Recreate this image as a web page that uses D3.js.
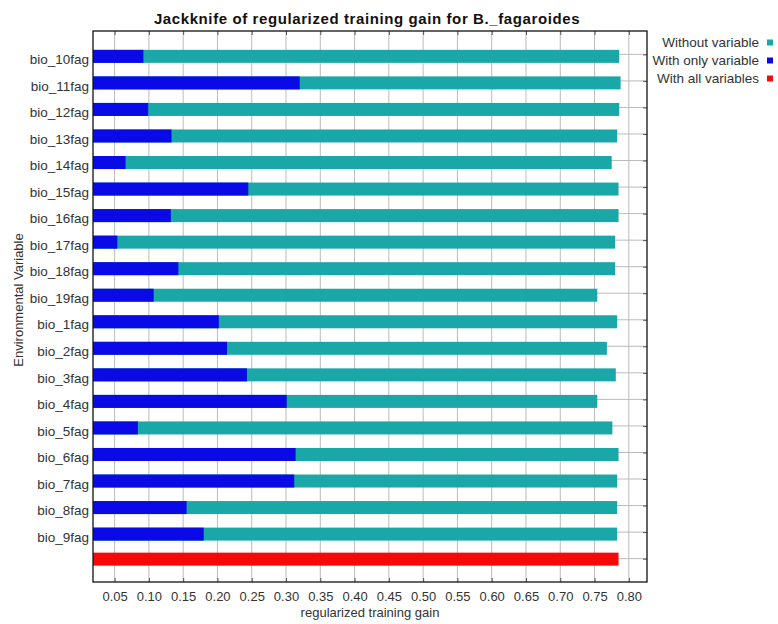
<!DOCTYPE html>
<html>
<head>
<meta charset="utf-8">
<script src="https://cdn.jsdelivr.net/npm/d3@7"></script>
<style>
  body { margin: 0; background: #fff; }
  text { font-family: "Liberation Sans", Arial, sans-serif; }
</style>
</head>
<body>
<script>
// variables in the order they are listed on the chart
var variables = ["bio_10fag", "bio_11fag", "bio_12fag", "bio_13fag", "bio_14fag", "bio_15fag",
  "bio_16fag", "bio_17fag", "bio_18fag", "bio_19fag", "bio_1fag", "bio_2fag", "bio_3fag",
  "bio_4fag", "bio_5fag", "bio_6fag", "bio_7fag", "bio_8fag", "bio_9fag"];

// gain without the variable (teal)
var withoutVar = [0.786, 0.788, 0.786, 0.783, 0.775, 0.785, 0.785, 0.780, 0.780, 0.754,
  0.783, 0.768, 0.781, 0.754, 0.776, 0.785, 0.783, 0.783, 0.783];

// gain with only the variable (blue)
var onlyVar = [0.092, 0.320, 0.099, 0.133, 0.066, 0.245, 0.132, 0.054, 0.143, 0.107,
  0.202, 0.214, 0.243, 0.301, 0.084, 0.314, 0.312, 0.155, 0.180];

// gain with all variables (red)
var allVars = 0.785;

var xTicks = [0.05, 0.10, 0.15, 0.20, 0.25, 0.30, 0.35, 0.40, 0.45, 0.50, 0.55, 0.60, 0.65, 0.70, 0.75, 0.80];

var legendItems = ["Without variable", "With only variable", "With all variables"];
var colors = ["#19a7a7", "#0a0ae6", "#f50a0a"];

var width = 778, height = 624;
var plotLeft = 93, plotRight = 647, plotTop = 31, plotBottom = 582;

var svg = d3.select("body").append("svg")
  .attr("width", width)
  .attr("height", height);

//x scale from the gain values, axis starts a little above zero like the original
var xScale = d3.scaleLinear()
  .domain([0.0185, 0.8265])
  .range([plotLeft, plotRight]);

//one row per variable plus the last row for all variables
var rows = variables.concat(["all"]);
var yScale = d3.scalePoint()
  .domain(rows)
  .range([plotTop, plotBottom])
  .padding(0.88);

var barH = 13;

//grid lines
svg.append("g").selectAll("line")
  .data(xTicks)
  .join("line")
  .attr("x1", d => xScale(d)).attr("x2", d => xScale(d))
  .attr("y1", plotTop).attr("y2", plotBottom)
  .attr("stroke", "#bbbbbb").attr("stroke-width", 1);

svg.append("g").selectAll("line")
  .data(rows)
  .join("line")
  .attr("x1", plotLeft).attr("x2", plotRight)
  .attr("y1", d => yScale(d)).attr("y2", d => yScale(d))
  .attr("stroke", "#bbbbbb").attr("stroke-width", 1);

//bars: teal first, blue on top of it
var bars = svg.append("g");
bars.selectAll("rect.without")
  .data(variables)
  .join("rect")
  .attr("class", "without")
  .attr("x", plotLeft)
  .attr("y", d => yScale(d) - 4.5)
  .attr("width", (d, i) => xScale(withoutVar[i]) - plotLeft)
  .attr("height", barH)
  .attr("fill", colors[0]);

bars.selectAll("rect.only")
  .data(variables)
  .join("rect")
  .attr("class", "only")
  .attr("x", plotLeft)
  .attr("y", d => yScale(d) - 4.5)
  .attr("width", (d, i) => xScale(onlyVar[i]) - plotLeft)
  .attr("height", barH)
  .attr("fill", colors[1]);

bars.append("rect")
  .attr("x", plotLeft)
  .attr("y", yScale("all") - 6)
  .attr("width", xScale(allVars) - plotLeft)
  .attr("height", barH)
  .attr("fill", colors[2]);

//axes with inner ticks on all four sides
var xAxis = d3.axisBottom(xScale).tickValues(xTicks).tickFormat(d3.format(".2f")).tickSizeInner(-4).tickSizeOuter(0).tickPadding(10);
var gx = svg.append("g").attr("transform", "translate(0," + plotBottom + ")").call(xAxis);
svg.append("g").attr("transform", "translate(0," + plotTop + ")")
  .call(d3.axisTop(xScale).tickValues(xTicks).tickSizeInner(-4).tickSizeOuter(0).tickFormat(""));

var yAxis = d3.axisLeft(yScale).tickValues(variables).tickSizeInner(0).tickSizeOuter(0).tickPadding(4);
var gy = svg.append("g").attr("transform", "translate(" + plotLeft + ",0)").call(yAxis);
svg.append("g").attr("transform", "translate(" + plotRight + ",0)")
  .call(d3.axisRight(yScale).tickSizeInner(-4).tickSizeOuter(0).tickFormat(""));

svg.selectAll(".domain").remove();
svg.selectAll(".tick line").attr("stroke", "#555");

gx.selectAll("text").attr("font-size", 13).attr("fill", "#333").attr("font-family", "Liberation Sans, Arial, sans-serif");
gy.selectAll("text").attr("font-size", 13.5).attr("fill", "#333").attr("font-family", "Liberation Sans, Arial, sans-serif").attr("dy", "0.68em");

//plot frame
svg.append("rect")
  .attr("x", plotLeft).attr("y", plotTop)
  .attr("width", plotRight - plotLeft).attr("height", plotBottom - plotTop)
  .attr("fill", "none").attr("stroke", "#111").attr("stroke-width", 1.3);

//titles
svg.append("text")
  .attr("x", (plotLeft + plotRight) / 2 - 3).attr("y", 24)
  .attr("text-anchor", "middle")
  .attr("font-size", 15).attr("font-weight", "bold").attr("fill", "#111")
  .attr("letter-spacing", 0.6)
  .text("Jackknife of regularized training gain for B._fagaroides");

svg.append("text")
  .attr("x", (plotLeft + plotRight) / 2).attr("y", 617)
  .attr("text-anchor", "middle")
  .attr("font-size", 13).attr("fill", "#333")
  .text("regularized training gain");

svg.append("text")
  .attr("transform", "translate(23,300) rotate(-90)")
  .attr("text-anchor", "middle")
  .attr("font-size", 13).attr("fill", "#333")
  .text("Environmental Variable");

//legend
var legend = svg.append("g").selectAll("g")
  .data(legendItems)
  .join("g")
  .attr("transform", (d, i) => "translate(0," + (42.5 + i * 18) + ")");

legend.append("text")
  .attr("x", 759).attr("dy", "0.35em")
  .attr("text-anchor", "end")
  .attr("font-size", 13.5).attr("fill", "#333")
  .text(d => d);

legend.append("rect")
  .attr("x", 767).attr("y", -3)
  .attr("width", 6).attr("height", 6)
  .attr("fill", (d, i) => colors[i]);
</script>
</body>
</html>
